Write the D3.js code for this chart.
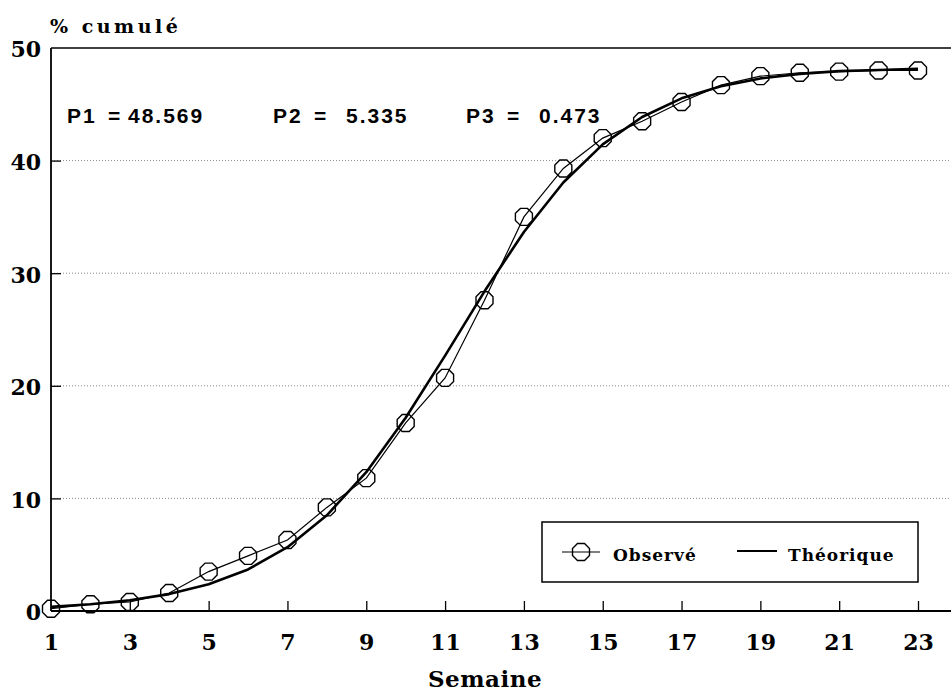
<!DOCTYPE html>
<html>
<head>
<meta charset="utf-8">
<script src="https://cdn.jsdelivr.net/npm/d3@7"></script>
<style>
  html, body { margin: 0; padding: 0; background: #fff; }
  svg { display: block; }
</style>
</head>
<body>
<svg id="chart" width="951" height="693"></svg>
<script>
"use strict";

// weeks 1..23, observed cumulative % and fitted (theoretical) curve
const semaines = [1,2,3,4,5,6,7,8,9,10,11,12,13,14,15,16,17,18,19,20,21,22,23];
const observe = [0.2,0.6,0.8,1.6,3.5,4.9,6.3,9.2,11.8,16.7,20.7,27.6,35.0,39.3,42.0,43.5,45.2,46.7,47.5,47.8,47.9,48.0,48.0];
const theorique = [0.37,0.6,0.95,1.5,2.37,3.69,5.67,8.5,12.33,17.16,22.68,28.39,33.66,38.06,41.44,43.87,45.53,46.6,47.3,47.7,47.95,48.05,48.15];
const xTicks = [1,3,5,7,9,11,13,15,17,19,21,23];
const yTicks = [0,10,20,30,40,50];
const params = [["P1","48.569"],["P2","5.335"],["P3","0.473"]];
const series = ["Observé","Théorique"];

const svg = d3.select("#chart");
const serif = "'DejaVu Serif', 'Liberation Serif', serif";

const x = d3.scaleLinear().domain([1,23]).range([51,918]);
const y = d3.scaleLinear().domain([0,50]).range([611,48]);
const xRight = 951;

// ---- gridlines (dotted)
svg.append("g").selectAll("line").data(yTicks.filter(d => d > 0 && d < 50)).enter().append("line")
  .attr("x1", x(1)).attr("x2", xRight)
  .attr("y1", d => y(d)).attr("y2", d => y(d))
  .attr("stroke", "#888").attr("stroke-width", 1).attr("stroke-dasharray", "1,2");

// ---- frame
svg.append("line").attr("x1", x(1)).attr("x2", xRight).attr("y1", y(50)).attr("y2", y(50))
  .attr("stroke", "#000").attr("stroke-width", 1.5);
svg.append("line").attr("x1", x(1)).attr("x2", xRight).attr("y1", y(0)).attr("y2", y(0))
  .attr("stroke", "#000").attr("stroke-width", 1.8);
svg.append("line").attr("x1", x(1)).attr("x2", x(1)).attr("y1", y(50)).attr("y2", y(0))
  .attr("stroke", "#000").attr("stroke-width", 1.8);

// ---- axes (ticks pointing inward)
function styleAxis(g) {
  g.select(".domain").remove();
  g.selectAll(".tick line").attr("stroke", "#000").attr("stroke-width", 1.3);
  g.selectAll(".tick text")
    .style("font-family", serif).style("font-weight", "bold")
    .style("font-size", "22px").style("fill", "#000");
}

const yAxis = svg.append("g").attr("transform", `translate(${x(1)},0)`)
  .call(d3.axisLeft(y).tickValues(yTicks).tickSize(-10).tickPadding(10).tickSizeOuter(0))
  .call(styleAxis);
yAxis.selectAll(".tick line").filter(d => d === 0 || d === 50).remove();
yAxis.selectAll(".tick text").attr("dy", "0.4em");

const xAxis = svg.append("g").attr("transform", `translate(0,${y(0)})`)
  .call(d3.axisBottom(x).tickValues(xTicks).tickSize(-10).tickPadding(22).tickSizeOuter(0))
  .call(styleAxis);
xAxis.selectAll(".tick line").filter(d => d === 1).remove();
xAxis.selectAll(".tick text").attr("dy", "0.75em");

// ---- axis titles
svg.append("text").attr("x", 50).attr("y", 33)
  .style("font-family", serif).style("font-weight", "bold")
  .style("font-size", "19px").style("letter-spacing", "3.5px").text("% cumulé");
svg.append("text").attr("x", 485).attr("y", 687).attr("text-anchor", "middle")
  .style("font-family", serif).style("font-weight", "bold")
  .style("font-size", "23px").style("letter-spacing", "0.5px").text("Semaine");

// ---- parameters
const pX = [67, 273, 466];
params.forEach((p, i) => {
  const t = svg.append("text").attr("y", 123)
    .style("font-family", "'Liberation Sans', Arial, sans-serif").style("font-weight", "bold")
    .style("font-size", "21px").style("letter-spacing", "2px");
  t.append("tspan").attr("x", pX[i]).text(p[0]);
  t.append("tspan").attr("x", pX[i] + 41).text("=");
  t.append("tspan").attr("x", pX[i] + (i === 0 ? 61 : 73)).text(p[1]);
});

// ---- lines
const line = d3.line().x((d, i) => x(semaines[i])).y(d => y(d));

svg.append("path").datum(theorique).attr("d", line)
  .attr("fill", "none").attr("stroke", "#000").attr("stroke-width", 2.6).attr("stroke-linejoin", "round");
svg.append("path").datum(observe).attr("d", line)
  .attr("fill", "none").attr("stroke", "#000").attr("stroke-width", 1.2);

// octagon marker
const R = 9.2;
const octo = d3.range(8).map(k => {
  const a = (22.5 + 45 * k) * Math.PI / 180;
  return [R * Math.cos(a), R * Math.sin(a)];
});
const octoPath = d3.line().curve(d3.curveLinearClosed)(octo);

svg.append("g").selectAll("path").data(observe).enter().append("path")
  .attr("d", octoPath)
  .attr("transform", (d, i) => `translate(${x(semaines[i])},${y(d)})`)
  .attr("fill", "none").attr("stroke", "#000").attr("stroke-width", 1.4);

// ---- legend
const leg = svg.append("g");
leg.append("rect").attr("x", 542).attr("y", 522).attr("width", 376).attr("height", 60)
  .attr("fill", "#fff").attr("stroke", "#000").attr("stroke-width", 1.5);
leg.append("line").attr("x1", 562).attr("x2", 600).attr("y1", 552).attr("y2", 552)
  .attr("stroke", "#000").attr("stroke-width", 1.2);
leg.append("path").attr("d", octoPath).attr("transform", "translate(581,552)")
  .attr("fill", "none").attr("stroke", "#000").attr("stroke-width", 1.4);
leg.append("line").attr("x1", 737).attr("x2", 777).attr("y1", 551).attr("y2", 551)
  .attr("stroke", "#000").attr("stroke-width", 2);
leg.selectAll("text.lab").data(series).enter().append("text").attr("class", "lab")
  .attr("x", (d, i) => [613, 788][i]).attr("y", 561)
  .style("font-family", serif).style("font-weight", "bold")
  .style("font-size", "17px").style("letter-spacing", "1px")
  .text(d => d);
</script>
</body>
</html>
